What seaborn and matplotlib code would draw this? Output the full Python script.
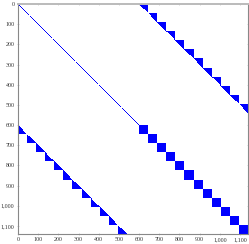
import numpy as np
import pandas as pd
import matplotlib
matplotlib.use("Agg")
import matplotlib.pyplot as plt
from matplotlib.colors import ListedColormap
from matplotlib.ticker import FuncFormatter
import seaborn as sns

# --- data ---
n_identity = 600          # size of top-left identity block
block_size = 45           # size of each small block
n_blocks = 12             # number of blocks along each band
tick_values = [0, 100, 200, 300, 400, 500, 600, 700, 800, 900, 1000, 1100]

n_total = n_identity + block_size * n_blocks

# build sparsity pattern
M = np.zeros((n_total, n_total), dtype=float)
idx = np.arange(n_identity)
M[idx, idx] = 1.0                      # identity (top-left)
tri_up = np.triu(np.ones((block_size, block_size)))
tri_lo = np.tril(np.ones((block_size, block_size)))
full = np.ones((block_size, block_size))
for k in range(n_blocks):
    r0 = k * block_size
    c0 = n_identity + k * block_size
    M[r0:r0 + block_size, c0:c0 + block_size] = tri_up      # top-right
    M[c0:c0 + block_size, r0:r0 + block_size] = tri_lo      # bottom-left
    M[c0:c0 + block_size, c0:c0 + block_size] = full        # bottom-right

df = pd.DataFrame(M)

sns.set_style("white")
plt.rcParams['font.family'] = ['Liberation Serif', 'DejaVu Serif']

fig = plt.figure(figsize=(2.49, 2.44), dpi=100)
ax = fig.add_axes([18 / 249, 1 - 234 / 244, 230 / 249, 230 / 244])

sns.heatmap(df, mask=(M == 0), cmap=ListedColormap(["#0000ff"]), cbar=False,
            ax=ax, xticklabels=False, yticklabels=False, square=False)

fmt = FuncFormatter(lambda v, p: f"{int(v):,}")
ax.set_xticks(tick_values)
ax.set_yticks(tick_values)
ax.xaxis.set_major_formatter(fmt)
ax.yaxis.set_major_formatter(fmt)
ax.set_xlim(0, n_total)
ax.set_ylim(n_total, 0)
ax.set_xlabel("")
ax.set_ylabel("")

for s in ["left", "bottom", "right"]:
    ax.spines[s].set_visible(True)
    ax.spines[s].set_color("#888888")
    ax.spines[s].set_linewidth(0.8)
ax.spines["top"].set_visible(True)
ax.spines["top"].set_color("#bbbbbb")
ax.spines["top"].set_linewidth(1.4)

ax.tick_params(axis="both", which="both", labelsize=4.3, labelcolor="#333333",
               color="#cccccc", length=2, width=0.6, pad=1.5,
               bottom=True, left=True, top=True, right=True,
               labeltop=False, labelright=False)
ax.tick_params(axis="x", labelrotation=0)
ax.tick_params(axis="y", labelrotation=0)
ax.tick_params(which="both", direction="inout")

fig.savefig("out.png", dpi=100)
